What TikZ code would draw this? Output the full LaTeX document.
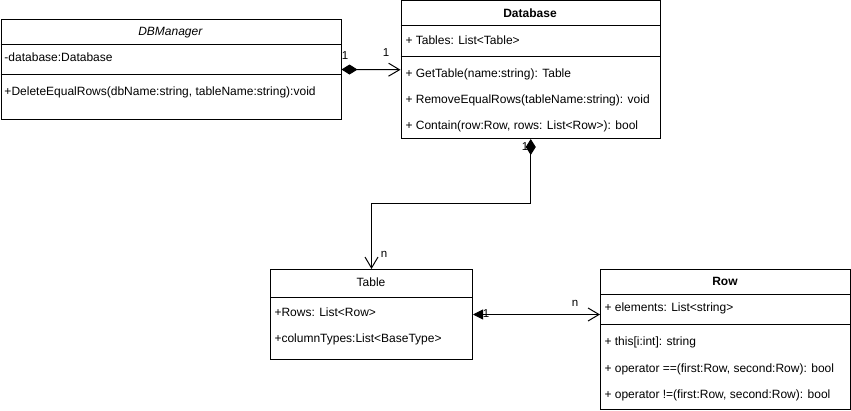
\documentclass[tikz,border=0pt]{standalone}
\usepackage{fontspec}
\setmainfont{Liberation Sans}
\usetikzlibrary{arrows.meta}

\begin{document}
\begin{tikzpicture}[x=1pt,y=-1pt,line width=1pt,
    every node/.style={inner sep=0pt,font=\fontsize{12}{14}\selectfont},
    classbox/.style={draw=black,anchor=north west},
    member/.style={anchor=base west},
    classname/.style={anchor=base},
    mult/.style={font=\fontsize{11.5}{13}\selectfont},
    comp/.style={arrows={Diamond[length=16pt,width=10pt]-Straight Barb[length=11pt,width=13pt]}},
    assoc/.style={arrows={Triangle[length=10pt,width=10pt]-Straight Barb[length=11pt,width=13pt]}}]
    \useasboundingbox (0,0) rectangle (851,411);
    % DBManager
    \node [classbox,minimum width=340pt,minimum height=100pt] (dbm) at (0.5,19) {};
    \node [classname] (dbmname) at (170.5,36) {\textit{DBManager}};
    \draw [black] (dbm.west |- 0,45) -- (dbm.east |- 0,45);
    \node [member] (dbmattr) at (4,62) {-database:Database};
    \draw [black] (dbm.west |- 0,75) -- (dbm.east |- 0,75);
    \node [member] (dbmop) at (4,96) {+DeleteEqualRows(dbName:string, tableName:string):void};
    % Database
    \node [classbox,minimum width=259.5pt,minimum height=137.5pt] (db) at (400.5,0.5) {};
    \node [classname] (dbname) at (530,18) {\textbf{Database}};
    \draw [black] (db.west |- 0,26) -- (db.east |- 0,26);
    \node [member] (dbattr) at (405,45) {+ Tables: List<Table>};
    \draw [black] (db.west |- 0,57) -- (db.east |- 0,57);
    \node [member] (dbop1) at (405,78) {+ GetTable(name:string): Table};
    \node [member] (dbop2) at (405,104) {+ RemoveEqualRows(tableName:string): void};
    \node [member] (dbop3) at (405,130) {+ Contain(row:Row, rows: List<Row>): bool};
    % Table
    \node [classbox,minimum width=202pt,minimum height=90pt] (tbl) at (270,269) {};
    \node [classname] (tblname) at (371,287) {Table};
    \draw [black] (tbl.west |- 0,298) -- (tbl.east |- 0,298);
    \node [member] (tblattr1) at (274,317) {+Rows: List<Row>};
    \node [member] (tblattr2) at (274,343) {+columnTypes:List<BaseType>};
    % Row
    \node [classbox,minimum width=250pt,minimum height=140pt] (row) at (600,269) {};
    \node [classname] (rowname) at (725,286) {\textbf{Row}};
    \draw [black] (row.west |- 0,295) -- (row.east |- 0,295);
    \node [member] (rowattr) at (604,312) {+ elements: List<string>};
    \draw [black] (row.west |- 0,325) -- (row.east |- 0,325);
    \node [member] (rowop1) at (604,346) {+ this[i:int]: string};
    \node [member] (rowop2) at (604,372) {+ operator ==(first:Row, second:Row): bool};
    \node [member] (rowop3) at (604,398) {+ operator !=(first:Row, second:Row): bool};
    % connectors
    \draw [black,comp] (dbm.east) -- (db.west);
    \node [mult] (m1) at (345,56) {1};
    \node [mult] (m2) at (386,53) {1};
    \draw [black,comp] (db.south) -- ++(0,65) -| (tbl.north);
    \node [mult] (m3) at (525,147) {1};
    \node [mult] (m4) at (384,254) {n};
    \draw [black,assoc] (tbl.east) -- (tbl.east -| row.west);
    \node [mult] (m5) at (486,314) {1};
    \node [mult] (m6) at (575,303) {n};
\end{tikzpicture}
\end{document}
